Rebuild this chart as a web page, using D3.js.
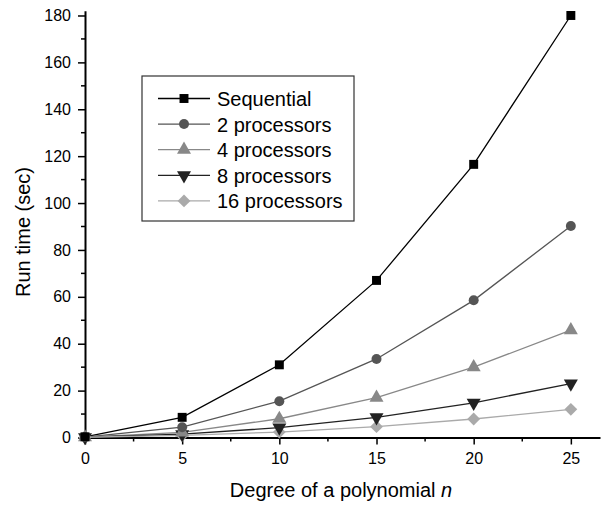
<!DOCTYPE html>
<html>
<head>
<meta charset="utf-8">
<script src="https://cdn.jsdelivr.net/npm/d3@7"></script>
<style>
  body { margin: 0; background: #fff; }
  svg { display: block; font-family: Arial, "Liberation Sans", sans-serif; }
</style>
</head>
<body>
<div id="field"></div>
<script>
'use strict';

// data
let degrees = [0, 5, 10, 15, 20, 25];
let seriesNames = ['Sequential', '2 processors', '4 processors', '8 processors', '16 processors'];
let sequential = [0.3, 8.6, 31, 67, 116.5, 180];
let proc2 = [0.2, 4.4, 15.5, 33.5, 58.5, 90.2];
let proc4 = [0.1, 2.2, 8, 17, 30, 45.8];
let proc8 = [0.1, 1.4, 4.2, 8.6, 14.8, 23];
let proc16 = [0.1, 0.9, 2.3, 4.6, 7.9, 12];
let xTicks = [0, 5, 10, 15, 20, 25];
let yTicks = [0, 20, 40, 60, 80, 100, 120, 140, 160, 180];

function D3Chart(setting) {
  let w = setting.w,
      h = setting.h,
      svg = d3.select('#field').append('svg').attr('width', w).attr('height', h);

  let xScale = d3.scaleLinear().domain([0, 26.5]).range([85, 600]),
      yScale = d3.scaleLinear().domain([0, 182]).range([437.5, 10.8]);

  // styles per series
  let styles = [
    {vals: sequential, line: '#000', fill: '#000', sym: d3.symbolSquare, size: 80, rot: 0},
    {vals: proc2, line: '#555', fill: '#555', sym: d3.symbolCircle, size: 78, rot: 0},
    {vals: proc4, line: '#888', fill: '#888', sym: d3.symbolTriangle, size: 85, rot: 0},
    {vals: proc8, line: '#222', fill: '#222', sym: d3.symbolTriangle, size: 85, rot: 180},
    {vals: proc16, line: '#aaa', fill: '#aaa', sym: d3.symbolSquare, size: 82, rot: 45}
  ];

  // axes
  let xAxis = d3.axisBottom(xScale).tickValues(xTicks).tickSizeInner(7).tickSizeOuter(0).tickPadding(8),
      yAxis = d3.axisLeft(yScale).tickValues(yTicks).tickSizeInner(7).tickSizeOuter(0).tickPadding(7);

  // minor ticks
  let xMinor = d3.range(2.5, 26.5, 5),
      yMinor = d3.range(10, 182, 20);

  svg.append('g').selectAll('line').data(xMinor).enter().append('line')
     .attr('x1', function(d){ return xScale(d); })
     .attr('x2', function(d){ return xScale(d); })
     .attr('y1', yScale(0))
     .attr('y2', yScale(0) + 4)
     .attr('stroke', '#000').attr('stroke-width', 1.5);
  svg.append('g').selectAll('line').data(yMinor).enter().append('line')
     .attr('x1', xScale(0) - 4)
     .attr('x2', xScale(0))
     .attr('y1', function(d){ return yScale(d); })
     .attr('y2', function(d){ return yScale(d); })
     .attr('stroke', '#000').attr('stroke-width', 1.5);

  let gx = svg.append('g').attr('transform', 'translate(0,' + yScale(0) + ')').call(xAxis);
  let gy = svg.append('g').attr('transform', 'translate(' + xScale(0) + ',0)').call(yAxis);
  [gx, gy].forEach(function(g){
    g.select('.domain').attr('stroke-width', 2);
    g.selectAll('.tick line').attr('stroke-width', 1.5);
    g.selectAll('.tick text').attr('font-size', '16px').attr('font-family', 'Arial, "Liberation Sans", sans-serif').attr('fill', '#000');
  });

  // axis titles
  let xt = svg.append('text')
     .attr('x', 341).attr('y', 497)
     .attr('text-anchor', 'middle')
     .attr('font-size', '20px');
  xt.append('tspan').text('Degree of a polynomial ');
  xt.append('tspan').attr('font-style', 'italic').text('n');

  svg.append('text')
     .attr('transform', 'translate(30,232) rotate(-90)')
     .attr('text-anchor', 'middle')
     .attr('font-size', '20px')
     .text('Run time (sec)');

  // lines and markers
  let line = d3.line()
    .x(function(d, i){ return xScale(degrees[i]); })
    .y(function(d){ return yScale(d); });

  styles.forEach(function(s){
    svg.append('path')
       .attr('d', line(s.vals))
       .attr('fill', 'none')
       .attr('stroke', s.line)
       .attr('stroke-width', 1.3);
  });
  styles.slice().reverse().forEach(function(s){
    svg.append('g').selectAll('path').data(s.vals).enter().append('path')
       .attr('d', d3.symbol().type(s.sym).size(s.size))
       .attr('transform', function(d, i){
         return 'translate(' + xScale(degrees[i]) + ',' + yScale(d) + ') rotate(' + s.rot + ')';
       })
       .attr('fill', s.fill);
  });

  // legend
  let lg = svg.append('g');
  lg.append('rect')
    .attr('x', 142).attr('y', 76).attr('width', 212).attr('height', 145)
    .attr('fill', '#fff').attr('stroke', '#333').attr('stroke-width', 1.2);
  let rows = lg.selectAll('g.row').data(styles).enter().append('g')
    .attr('transform', function(d, i){ return 'translate(0,' + (98.5 + i * 25.6) + ')'; });
  rows.append('line')
    .attr('x1', 158).attr('x2', 210).attr('y1', 0).attr('y2', 0)
    .attr('stroke', function(d){ return d.line; }).attr('stroke-width', 1.3);
  rows.append('path')
    .attr('d', function(d){ return d3.symbol().type(d.sym).size(d.size)(); })
    .attr('transform', function(d){ return 'translate(184,0) rotate(' + d.rot + ')'; })
    .attr('fill', function(d){ return d.fill; });
  rows.append('text')
    .attr('x', 217).attr('y', 7.5)
    .attr('font-size', '20px')
    .text(function(d, i){ return seriesNames[i]; });
}

let d3Chart = new D3Chart({
  w: 604,
  h: 508
});
</script>
</body>
</html>
